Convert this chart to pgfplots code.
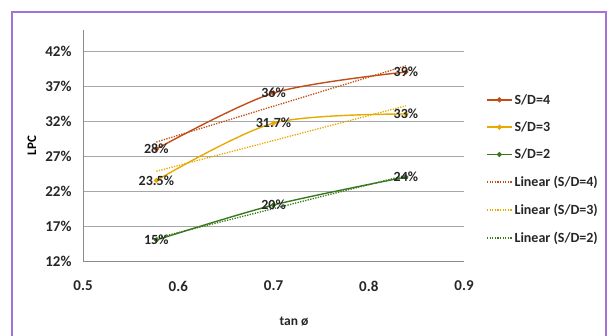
\documentclass[border=0pt]{standalone}
\usepackage{pgfplots}
\pgfplotsset{compat=1.18}
\usepackage{fontspec}
\setmainfont{Carlito}
\definecolor{sdfour}{RGB}{192,78,22}
\definecolor{sdthree}{RGB}{232,170,0}
\definecolor{sdtwo}{RGB}{58,122,30}
\definecolor{frameclr}{RGB}{165,115,215}
\begin{document}
\begin{tikzpicture}[x=1pt,y=1pt]
\useasboundingbox (0,0) rectangle (613,335);
\draw[frameclr, line width=2pt] (12,-10) rectangle (606,323);
\begin{axis}[
  at={(83pt,74pt)}, anchor=south west,
  scale only axis, width=381pt, height=231pt,
  xmin=0.5, xmax=0.9, ymin=12, ymax=45,
  xtick={0.5,0.6,0.7,0.8,0.9}, xticklabels={0.5,0.6,0.7,0.8,0.9},
  ytick={12,17,22,27,32,37,42},
  yticklabels={12\%,17\%,22\%,27\%,32\%,37\%,42\%},
  axis x line=bottom, axis y line=left,
  axis line style={black!45, -, line width=0.8pt},
  ymajorgrids, grid style={black!35, line width=0.8pt},
  major tick length=0pt,
  tick label style={font=\bfseries\fontsize{15}{17}\selectfont, text=black!85},
  xticklabel style={anchor=center, yshift=-25pt},
  yticklabel style={anchor=east, xshift=-8pt},
  ylabel={LPC},
  every axis y label/.style={at={(axis description cs:-0.134,0.5)}, rotate=90, anchor=center,
     font=\bfseries\fontsize{13}{14}\selectfont},
  xlabel={tan ø},
  every axis x label/.style={at={(axis description cs:0.554,-0.264)}, anchor=center,
     font=\bfseries\fontsize{13.5}{15}\selectfont, text=black!85},
  legend style={draw=none, fill=none, at={(1,1)}, anchor=north west, xshift=22pt, yshift=-62pt,
    inner xsep=0pt, inner ysep=0pt, row sep=12pt,
    font=\bfseries\fontsize{14}{16}\selectfont, text=black!85, nodes={inner sep=2pt}},
  legend cell align=left,
  legend image code/.code={\draw[mark repeat=2,mark phase=2,#1] plot coordinates {(0pt,0pt) (12.5pt,0pt) (25pt,0pt)};},
  every node near coord/.style={anchor=center, text=black!85, font=\bfseries\fontsize{14}{16}\selectfont},
]
\addplot[sdfour, line width=1.4pt, smooth, tension=0.5, mark=*, mark size=1.8pt, mark options={solid},
  nodes near coords, point meta=explicit symbolic]
  coordinates {(0.577,28)[28\%] (0.700,36)[36\%] (0.839,39)[39\%]};
\addlegendentry{S/D=4}
\addplot[sdthree, line width=1.4pt, smooth, tension=0.5, mark=*, mark size=1.8pt, mark options={solid},
  nodes near coords, point meta=explicit symbolic]
  coordinates {(0.577,23.5)[23.5\%] (0.700,31.7)[31.7\%] (0.839,33)[33\%]};
\addlegendentry{S/D=3}
\addplot[sdtwo, line width=1.4pt, smooth, tension=0.5, mark=*, mark size=1.8pt, mark options={solid},
  nodes near coords, point meta=explicit symbolic]
  coordinates {(0.577,15)[15\%] (0.700,20)[20\%] (0.839,24)[24\%]};
\addlegendentry{S/D=2}
\addplot[sdfour, line width=1.3pt, dash pattern=on 1.3pt off 1.3pt, mark=none]
  coordinates {(0.577,29.00) (0.839,39.89)};
\addlegendentry{Linear (S/D=4)}
\addplot[sdthree, line width=1.3pt, dash pattern=on 1.3pt off 1.3pt, mark=none]
  coordinates {(0.577,24.82) (0.839,34.17)};
\addlegendentry{Linear (S/D=3)}
\addplot[sdtwo, line width=1.3pt, dash pattern=on 1.3pt off 1.3pt, mark=none]
  coordinates {(0.577,15.27) (0.839,24.24)};
\addlegendentry{Linear (S/D=2)}
\end{axis}
\end{tikzpicture}
\end{document}
